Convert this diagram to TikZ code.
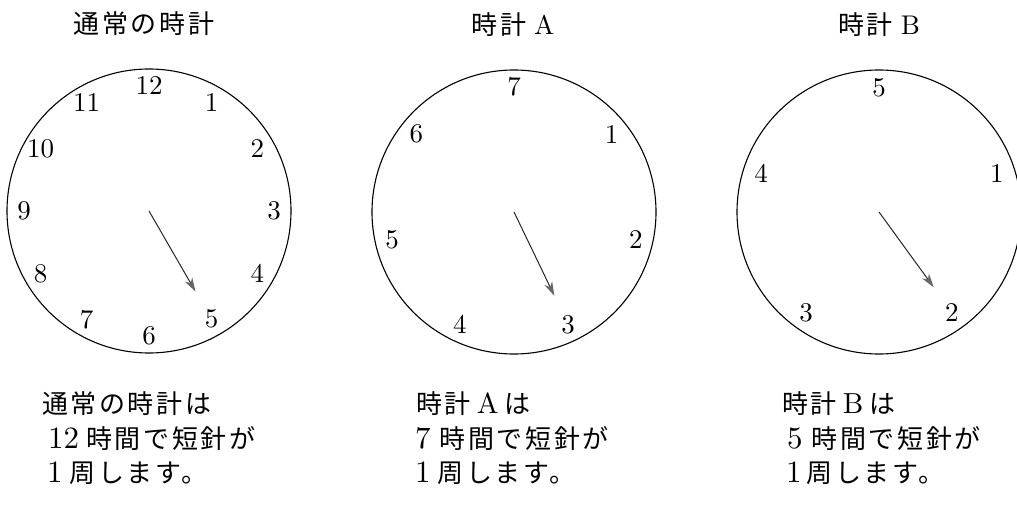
\documentclass[tikz,border=0pt]{standalone}
\usepackage{fontspec}
\newfontfamily\jp[LetterSpace=10]{Noto Sans CJK JP}
\newfontfamily\lt[Extension=.otf]{lmroman10-regular}
\usetikzlibrary{arrows.meta,calc}
\newcommand{\lat}{\lt\fontsize{31}{31}\selectfont}
\newcommand{\blat}{\lt\fontsize{29}{29}\selectfont}
\newcommand{\tlat}{\lt\fontsize{27}{27}\selectfont}
\begin{document}
\begin{tikzpicture}[x=1pt,y=-1pt,
  face/.style={draw=black, line width=1.1pt, circle, minimum size=284pt, inner sep=0pt},
  num/.style={font=\lt\fontsize{27}{27}\selectfont, inner sep=0pt},
  hand/.style={line width=1pt, draw=black!85, -{Stealth[length=14pt,width=8.5pt,inset=4.5pt,fill=black!60,color=black!60]}},
  title/.style={font=\fontsize{26}{26}\selectfont, inner sep=0pt},
  body/.style={font=\fontsize{26}{26}\selectfont, inner sep=0pt, anchor=base west}]
\useasboundingbox (0,0) rectangle (1017,518);
% ---------- clock 1 ----------
\coordinate (c1) at (149,211);
\node[face] (f1) at (c1) {};
\foreach \n in {1,...,12} {
  \node[num] (n1-\n) at ($(c1)+({90-30*\n}:125pt)$) {\n};
}
\coordinate (h1) at ($(c1)+({90-150}:93pt)$);
\draw[hand] (c1) -- (h1);
\node[title] (t1) at (144,24) {\jp 通常の時計};
% ---------- clock A ----------
\coordinate (c2) at (514,212);
\node[face] (f2) at (c2) {};
\foreach \n in {1,...,7} {
  \node[num] (n2-\n) at ($(c2)+({90-360/7*\n}:125pt)$) {\n};
}
\coordinate (h2) at ($(c2)+({90-360/7*3}:93pt)$);
\draw[hand] (c2) -- (h2);
\node[title] (t2) at (513,25) {{\jp 時計}\hspace{8pt}{\tlat A}};
% ---------- clock B ----------
\coordinate (c3) at (879,212);
\node[face] (f3) at (c3) {};
\foreach \n in {1,...,5} {
  \node[num] (n3-\n) at ($(c3)+({90-72*\n}:124pt)$) {\n};
}
\coordinate (h3) at ($(c3)+({90-144}:93pt)$);
\draw[hand] (c3) -- (h3);
\node[title] (t3) at (879,25) {{\jp 時計}\hspace{8pt}{\tlat B}};
% ---------- texts ----------
\node[body] (a1) at (42,413) {\jp 通常の時計は};
\node[body] (a2) at (48,448) {{\lat 12}\hspace{7pt}{\jp 時間で短針が}};
\node[body] (a3) at (47,482) {{\lat 1}\hspace{7pt}{\jp 周します。}};
\node[body] (b1) at (416,413) {{\jp 時計}\hspace{6pt}{\blat A}\hspace{6pt}{\jp は}};
\node[body] (b2) at (415,448) {{\lat 7}\hspace{9pt}{\jp 時間で短針が}};
\node[body] (b3) at (415,482) {{\lat 1}\hspace{7pt}{\jp 周します。}};
\node[body] (d1) at (782,413) {{\jp 時計}\hspace{6pt}{\blat B}\hspace{6pt}{\jp は}};
\node[body] (d2) at (787,448) {{\lat 5}\hspace{9pt}{\jp 時間で短針が}};
\node[body] (d3) at (786,482) {{\lat 1}\hspace{5pt}{\jp 周します。}};
\end{tikzpicture}
\end{document}
